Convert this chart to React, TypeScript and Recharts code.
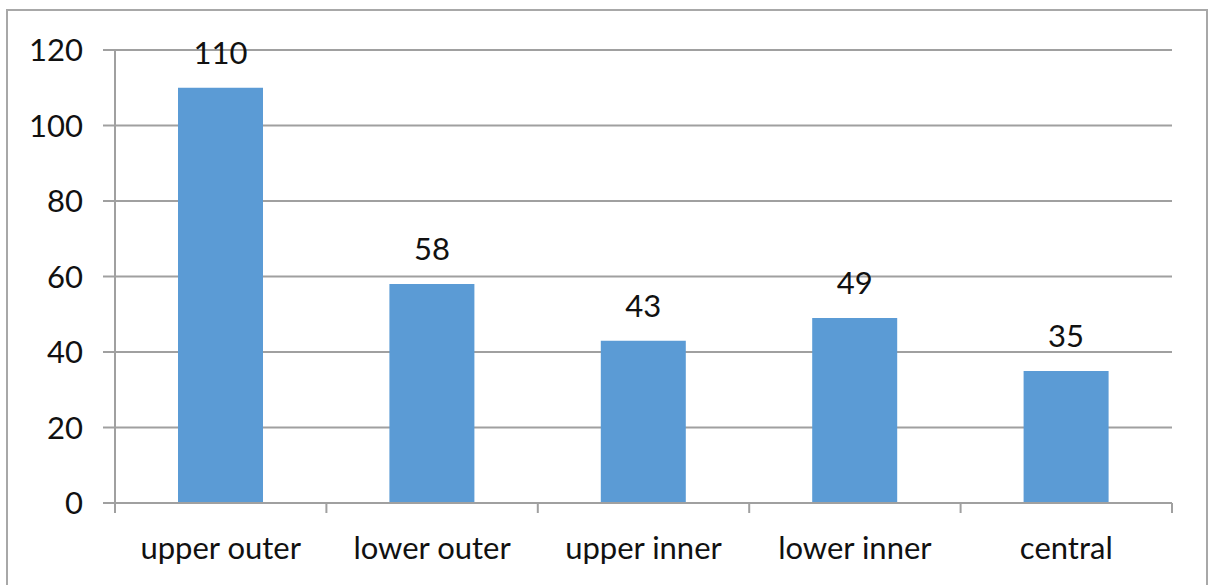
import React from 'react';
import { BarChart, Bar, XAxis, YAxis, CartesianGrid, LabelList } from 'recharts';

const categories = ['upper outer', 'lower outer', 'upper inner', 'lower inner', 'central'];
const counts = [110, 58, 43, 49, 35];
const yTicks = [0, 20, 40, 60, 80, 100, 120];

const data = categories.map((name, i) => ({ name, count: counts[i] }));

const FONT = 'Lato, "Open Sans", sans-serif';
const FONT_SIZE = 31;
const AXIS_GRAY = '#a0a0a0';
const TEXT = '#111';

const W = 1214;
const H = 585;
const PLOT_W = 1057;

// Category tick: label at band centre, tick marks at band boundaries
const CategoryTick = (props: any) => {
  const { x, y, payload, index } = props;
  const half = payload && payload.offset ? payload.offset : PLOT_W / categories.length / 2;
  const axisY = y - 8;
  const isLast = index === categories.length - 1;
  return (
    <g>
      <line x1={x - half} x2={x - half} y1={axisY} y2={axisY + 10} stroke={AXIS_GRAY} strokeWidth={2} />
      {isLast && (
        <line x1={x + half} x2={x + half} y1={axisY} y2={axisY + 10} stroke={AXIS_GRAY} strokeWidth={2} />
      )}
      <text x={x} y={axisY + 56} textAnchor="middle" fill={TEXT} fontSize={FONT_SIZE} fontFamily={FONT}>
        {payload.value}
      </text>
    </g>
  );
};

export default function App() {
  return (
    <div style={{ position: 'absolute', left: 0, top: 0, width: W, height: H, background: '#fff', overflow: 'hidden' }}>
      <div
        style={{
          position: 'absolute',
          left: 6,
          top: 9,
          width: 1202,
          height: 600,
          border: '2px solid #a8a8a8',
          boxSizing: 'border-box',
        }}
      />
      <div style={{ position: 'absolute', left: 0, top: 0 }}>
        <BarChart
          width={W}
          height={H}
          data={data}
          margin={{ top: 50, right: 42, bottom: 32, left: 55 }}
        >
          <CartesianGrid vertical={false} stroke={AXIS_GRAY} strokeWidth={2} />
          <XAxis
            dataKey="name"
            height={50}
            axisLine={{ stroke: AXIS_GRAY, strokeWidth: 2 }}
            tickLine={false}
            interval={0}
            tick={<CategoryTick />}
          />
          <YAxis
            width={60}
            domain={[0, 120]}
            ticks={yTicks}
            interval={0}
            axisLine={{ stroke: AXIS_GRAY, strokeWidth: 2 }}
            tickLine={{ stroke: AXIS_GRAY, strokeWidth: 2 }}
            tickSize={12}
            tickMargin={20}
            tick={{ fill: TEXT, fontSize: FONT_SIZE, fontFamily: FONT }}
          />
          <Bar dataKey="count" fill="#5b9bd5" barSize={85} isAnimationActive={false}>
            <LabelList
              dataKey="count"
              position="top"
              offset={24}
              fill={TEXT}
              fontSize={FONT_SIZE}
              fontFamily={FONT}
            />
          </Bar>
        </BarChart>
      </div>
    </div>
  );
}
